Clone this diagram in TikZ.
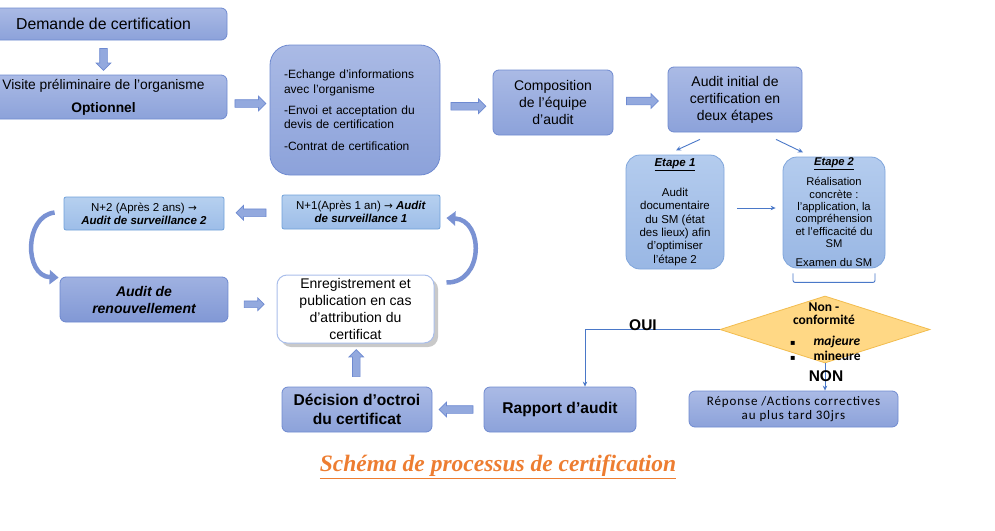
\documentclass[tikz,border=0pt]{standalone}
\usepackage{fontspec}
\setmainfont{Liberation Sans}
\newfontfamily\calib{Carlito}
\newfontfamily\calibsp[LetterSpace=7]{Carlito}
\newfontfamily\capfont{Liberation Serif}
\newfontfamily\symfont{DejaVu Sans}
\usetikzlibrary{shapes.arrows,shapes.geometric,shadows,calc,arrows.meta}
\definecolor{boxtop}{HTML}{AABAE5}
\definecolor{boxbot}{HTML}{8CA2DA}
\definecolor{boxborder}{HTML}{6F8AD0}
\definecolor{ettop}{HTML}{B4CCEE}
\definecolor{etbot}{HTML}{99B7E4}
\definecolor{etborder}{HTML}{7FA5DB}
\definecolor{ntop}{HTML}{B6D0EF}
\definecolor{nbot}{HTML}{9DBDE8}
\definecolor{nborder}{HTML}{6FA0D9}
\definecolor{rentop}{HTML}{9FB1E1}
\definecolor{renbot}{HTML}{8198D5}
\definecolor{renborder}{HTML}{6C87CF}
\definecolor{enrborder}{HTML}{A9BEEB}
\definecolor{dfill}{HTML}{FFD885}
\definecolor{dborder}{HTML}{F2BC4E}
\definecolor{lineblue}{HTML}{4A78C8}
\definecolor{afill}{HTML}{93A9DE}
\definecolor{aborder}{HTML}{6E8AD1}
\definecolor{curvecol}{HTML}{7A92D3}
\definecolor{capcol}{HTML}{ED7D31}
\newcommand{\fs}[2]{\fontsize{#1}{#2}\selectfont}
\begin{document}
\begin{tikzpicture}[x=1pt,y=-1pt,
  mainbox/.style={draw=boxborder, line width=0.8pt, rounded corners=6pt, top color=boxtop, bottom color=boxbot, inner sep=1pt},
  etbox/.style={draw=etborder, line width=0.8pt, rounded corners=14pt, top color=ettop, bottom color=etbot, align=center, inner sep=1pt},
  nbox/.style={draw=nborder, line width=0.8pt, rounded corners=2pt, top color=ntop, bottom color=nbot, inner sep=1pt, align=center},
  renbox/.style={draw=renborder, line width=0.8pt, rounded corners=6pt, top color=rentop, bottom color=renbot, inner sep=1pt, align=center},
  enrbox/.style={draw=enrborder, line width=1pt, fill=white, rounded corners=10pt, inner sep=1pt, align=center,
     drop shadow={shadow xshift=4pt, shadow yshift=-4pt, opacity=0.3, fill=black!70}},
  barrow/.style={single arrow, draw=aborder, fill=afill, line width=0.7pt, minimum height=#1, inner sep=3.5pt, single arrow head extend=3.5pt},
  conn/.style={draw=lineblue, line width=0.9pt, -{Stealth[length=5pt,width=4.5pt]}},
  brace/.style={draw=lineblue, line width=0.9pt, rounded corners=2pt},
  curv/.style={draw=curvecol, line width=4.5pt, -{Triangle[length=9pt,width=14pt]}}
]
\useasboundingbox (0,0) rectangle (995,530);
\clip (0,0) rectangle (995,530);

% top row
\node[mainbox, minimum width=247, minimum height=32, font=\fs{15.8}{17}] (dem) at (103.5,24) {Demande de certification};
\node[mainbox, minimum width=247, minimum height=44, font=\fs{13.8}{23}, align=center] (vis) at (103.5,97) {Visite préliminaire de l’organisme\\\textbf{Optionnel}};
\node[mainbox, rounded corners=20pt, minimum width=170, minimum height=130, align=left, text width=142, font=\fs{12}{14.5}] (ech) at (355,110) {-Echange d’informations\\avec l’organisme\\[6.5pt]-Envoi et acceptation du\\devis de certification\\[7pt]-Contrat de certification};
\node[mainbox, minimum width=120, minimum height=65, align=center, font=\fs{14}{17}] (comp) at (553,102.5) {Composition\\de l’équipe\\d’audit};
\node[mainbox, minimum width=134, minimum height=65, align=center, font=\fs{14}{17}] (ai) at (735,99.5) {Audit initial de\\certification en\\deux étapes};

\node[barrow=22, shape border rotate=270] (a1) at ($(dem.south)!0.5!(vis.north)$) {};
\node[barrow=31] (a2) at ($(vis.east)!0.5!(ech.west)$) {};
\node[barrow=35] (a3) at ($(ech.east)!0.5!(comp.west)$) {};
\node[barrow=32] (a4) at ($(comp.east)!0.5!(ai.west)$) {};

% etapes
\node[etbox, minimum width=98, minimum height=114, font=\fs{11.5}{13.4}] (e1) at (675,212) {\underline{\textbf{\textit{Etape 1}}}\\[16.5pt]Audit\\documentaire\\du SM (état\\des lieux) afin\\d’optimiser\\l’étape 2};
\node[etbox, minimum width=102, minimum height=111, font=\fs{11.2}{12.3}] (e2) at (834,212.5) {\underline{\textbf{\textit{Etape 2}}}\\[6.5pt]Réalisation\\concrète :\\l’application, la\\compréhension\\et l’efficacité du\\SM\\[7pt]Examen du SM};

\draw[conn] ($(ai.south)+(-35,7)$) -- ($(ai.south)+(-59,18)$);
\draw[conn] ($(ai.south)+(41,7)$) -- ($(ai.south)+(68,20)$);
\draw[conn] ($(e1.east)+(13,-4)$) -- ($(e2.west)+(-7,-4.5)$);

% diamond
\node[diamond, draw=dborder, fill=dfill, line width=0.8pt, minimum width=210, minimum height=67, inner sep=0pt] (nc) at (825,329.5) {};
\draw[brace] ($(e2.south)+(-41,5)$) -- ++(0,9) -- ++(82,0) -- ++(0,-9);
\draw[brace] ($(e2.south)+(0,14)$) -- ($(e2.south)+(0,14)$ |- nc.north);
\node[font=\calib\bfseries\fs{13.5}{13.5}, align=center] (nct) at (824,313.5) {Non -\\conformité};
\node[font=\calib\bfseries\fs{13.5}{15}, align=left, anchor=west, inner sep=0pt] (ncl) at (790,348.5) {{\symfont\fs{8}{15}▪}\hspace{18pt}\textit{majeure}\\{\symfont\fs{8}{15}▪}\hspace{18pt}mineure};

% bottom right
\node[mainbox, minimum width=209, minimum height=36, font=\calibsp\fs{13}{14}, align=center] (rep) at (793.5,409) {Réponse /Actions correctives\\au plus tard 30jrs};
\node[mainbox, minimum width=152, minimum height=45, font=\bfseries\fs{15.6}{17}] (rap) at (560,409.5) {Rapport d’audit};
\node[mainbox, minimum width=150, minimum height=45, font=\bfseries\fs{15.6}{19}, align=center] (dec) at (357,409.5) {Décision d’octroi\\du certificat};

\draw[conn] (nc.west) -| ([xshift=25pt]rap.north);
\draw[conn] (nc.south) -- (nc.south |- rep.north);
\node[font=\bfseries\fs{15.5}{15.5}] (oui) at (643,325.5) {OUI};
\node[font=\bfseries\fs{15.5}{15.5}] (non) at (826,376.5) {NON};

\node[barrow=34, shape border rotate=180] (a5) at ($(rap.west)!0.5!(dec.east)$) {};

% left loop
\node[enrbox, minimum width=157, minimum height=68, font=\fs{14}{16.7}] (enr) at (355.5,309) {Enregistrement et\\publication en cas\\d’attribution du\\certificat};
\node[barrow=27, shape border rotate=90] (a6) at ($(dec.north)!0.5!(enr.south)$) {};
\node[renbox, minimum width=168, minimum height=45, font=\bfseries\itshape\fs{14}{17}] (ren) at (144,299.5) {Audit de\\renouvellement};
\node[barrow=20, inner sep=3pt, single arrow head extend=3pt] (a7) at ($(ren.east)!0.5!(enr.west)$) {};
\node[nbox, minimum width=160, minimum height=33, font=\fs{11.5}{13}] (n2) at (144,213.5) {N+2 (Après 2 ans) {\symfont\fs{10.5}{13}→}\\\textbf{\textit{Audit de surveillance 2}}};
\node[nbox, minimum width=158, minimum height=34, font=\fs{11.5}{13}] (n1) at (361,212) {N+1(Après 1 an) {\symfont\fs{10.5}{13}→} \textbf{\textit{Audit}}\\\textbf{\textit{de surveillance 1}}};
\node[barrow=30, shape border rotate=180] (a8) at ($(n1.west)!0.5!(n2.east)$) {};

\draw[curv] ([shift={(-9,-1)}]n2.west) .. controls (24,216) and (24,276) .. ([shift={(-1,1)}]ren.north west);
\draw[curv] ([shift={(12,8)}]enr.north east) .. controls (484,283) and (484,220) .. ([shift={(6,6)}]n1.east);

% caption
\node[font=\capfont\bfseries\itshape\fs{23.5}{23.5}, text=capcol] (cap) at (498,467) {\underline{Schéma de processus de certification}};
\end{tikzpicture}
\end{document}
